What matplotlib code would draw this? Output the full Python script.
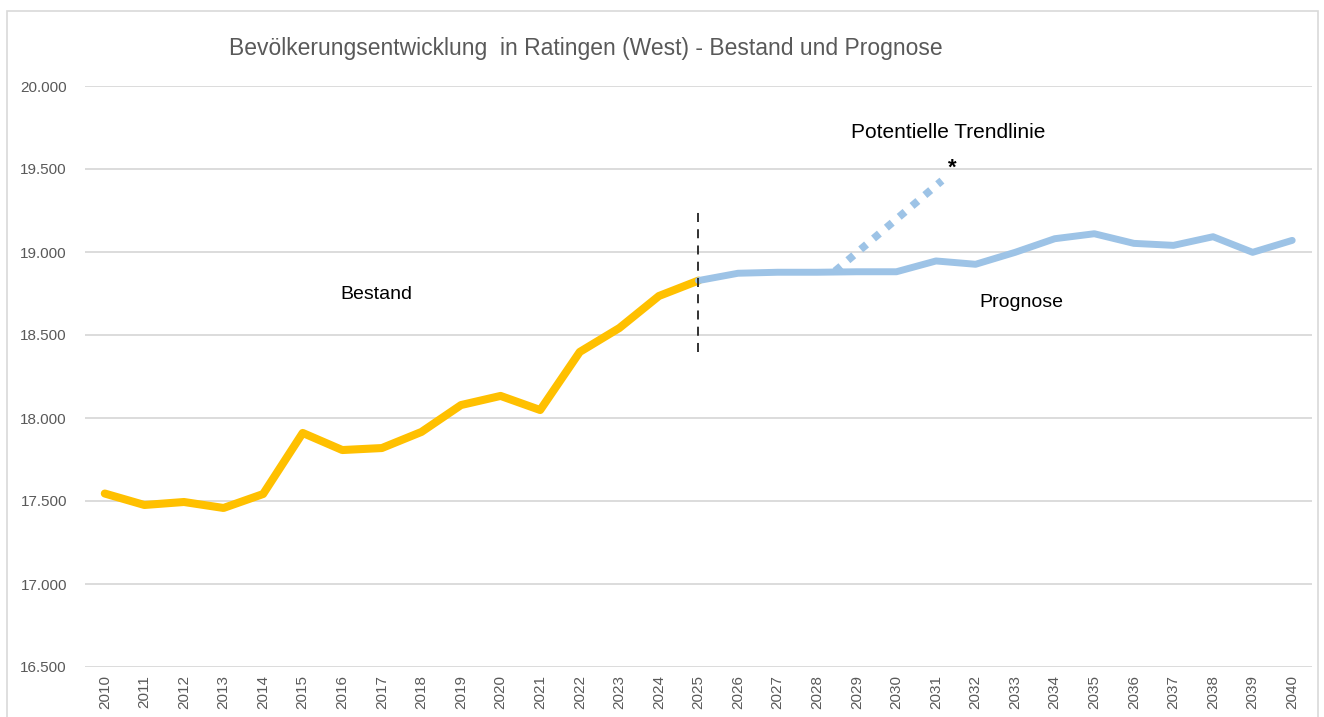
import matplotlib
matplotlib.use("Agg")
import matplotlib.pyplot as plt
from matplotlib.patches import Rectangle

# Data
years_bestand = list(range(2010, 2026))
bestand = [17545, 17476, 17494, 17458, 17542, 17910, 17807, 17819,
           17916, 18078, 18133, 18048, 18398, 18542, 18735, 18828]

years_prognose = list(range(2025, 2041))
prognose = [18828, 18872, 18878, 18878, 18881, 18881, 18946, 18926,
            18998, 19080, 19110, 19052, 19040, 19092, 18998, 19070]

trend_x = [2028.45, 2031.15]
trend_y = [18885, 19430]

split_year = 2025
split_range = [18400, 19280]

y_ticks = [16500, 17000, 17500, 18000, 18500, 19000, 19500, 20000]
x_ticks = list(range(2010, 2041))

title = "Bevölkerungsentwicklung  in Ratingen (West) - Bestand und Prognose"

FONT = ["Liberation Sans Narrow", "Liberation Sans", "DejaVu Sans"]
plt.rcParams["font.family"] = FONT


def fmt_de(v):
    return f"{v:,.0f}".replace(",", ".")


fig = plt.figure(figsize=(13.24, 7.17), dpi=100)
ax = fig.add_axes([85 / 1324, 1 - 667 / 717, (1312 - 85) / 1324, (667 - 86) / 717])

# outer chart frame
fig.add_artist(Rectangle((7 / 1324, -0.02), 1311 / 1324, 1 - 11 / 717 + 0.02,
                         transform=fig.transFigure, fill=False,
                         ec="#D9D9D9", lw=1.2))

ax.plot(years_bestand, bestand, color="#FFC000", lw=5.8,
        solid_capstyle="round", solid_joinstyle="round", zorder=3)
ax.plot(years_prognose, prognose, color="#9DC3E6", lw=5.0,
        solid_capstyle="round", solid_joinstyle="round", zorder=3)
ax.plot(trend_x, trend_y, color="#9DC3E6", lw=5.5,
        linestyle=(0, (1, 1.2)), zorder=2)
ax.plot([split_year, split_year], split_range, color="#222222", lw=1.3,
        linestyle=(0, (5, 4)), zorder=4)

ax.text(2031.4, 19505, "*", fontsize=16, fontweight="bold",
        ha="center", va="center", color="black")
ax.text(2016.85, 18741, "Bestand", fontsize=14, ha="center", va="center")
ax.text(2033.15, 18693, "Prognose", fontsize=14, ha="center", va="center")
ax.text(2031.3, 19717, "Potentielle Trendlinie", fontsize=15,
        ha="center", va="center")

fig.text(586 / 1324, 1 - 48 / 717, title, fontsize=16.5, color="#595959",
         ha="center", va="center")

ax.set_xlim(2009.5, 2040.5)
ax.set_ylim(16500, 20000)
ax.set_yticks(y_ticks)
ax.set_yticklabels([fmt_de(v) for v in y_ticks])
ax.set_xticks(x_ticks)
ax.set_xticklabels([str(y) for y in x_ticks], rotation=90)
ax.tick_params(axis="both", length=0, labelsize=11, labelcolor="#595959")
ax.tick_params(axis="y", pad=13)
ax.tick_params(axis="x", pad=6)

ax.grid(axis="y", color="#D9D9D9", lw=1.3)
ax.set_axisbelow(True)
for s in ax.spines.values():
    s.set_visible(False)

fig.savefig("out.png", dpi=100, facecolor="white")
